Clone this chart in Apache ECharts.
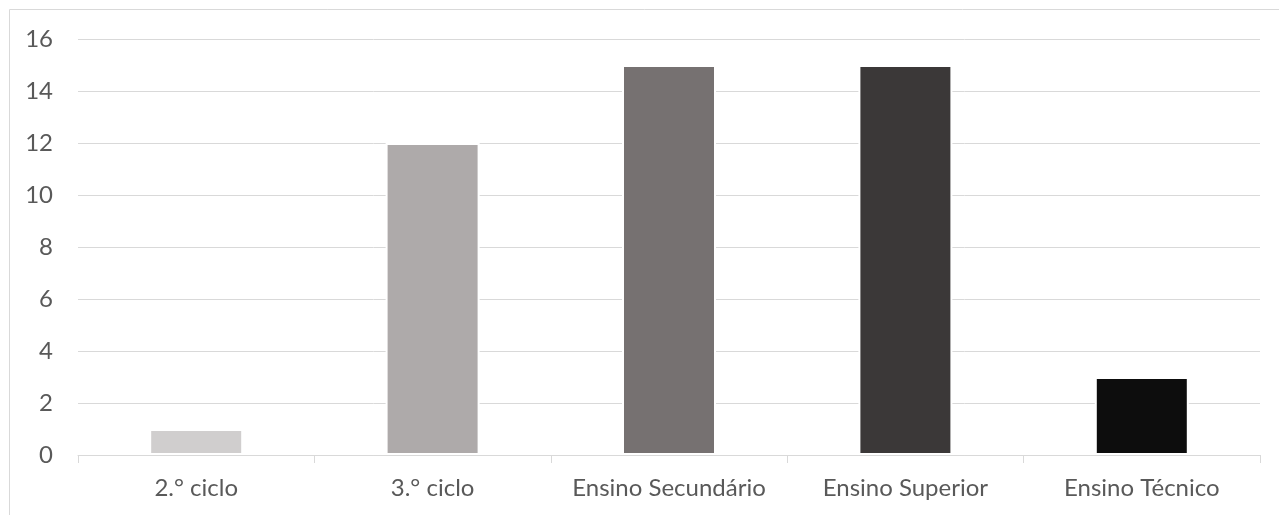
<!DOCTYPE html>
<html><head><meta charset="utf-8">
<script src="https://cdn.jsdelivr.net/npm/echarts@6/dist/echarts.min.js"></script>
<style>html,body{margin:0;padding:0;background:#fff}#c{width:1279px;height:515px}</style>
</head><body><div id="c"></div>
<script>
const categories = ['2.° ciclo', '3.° ciclo', 'Ensino Secundário', 'Ensino Superior', 'Ensino Técnico'];
const values = [1, 12, 15, 15, 3];
const barColors = ['#d0cece', '#aeaaaa', '#767171', '#3b3838', '#0d0d0d'];
const yTicks = { min: 0, max: 16, interval: 2 };

const chart = echarts.init(document.getElementById('c'), null, { renderer: 'canvas' });
chart.setOption({
  animation: false,
  textStyle: { fontFamily: 'Lato' },
  graphic: [{ type: 'rect', shape: { x: 9.5, y: 9.5, width: 1300, height: 600 }, style: { fill: 'none', stroke: '#d9d9d9', lineWidth: 1 }, silent: true }],
  grid: { left: 78, right: 19, top: 39, bottom: 60, containLabel: false },
  xAxis: {
    type: 'category', data: categories, z: 5,
    axisLine: { lineStyle: { color: '#d9d9d9', width: 1 } },
    axisTick: { show: true, length: 8, lineStyle: { color: '#d9d9d9' } },
    axisLabel: { color: '#595959', fontSize: 24, margin: 21, interval: 0 }
  },
  yAxis: {
    type: 'value', min: yTicks.min, max: yTicks.max, interval: yTicks.interval, z: 0,
    axisLine: { show: false }, axisTick: { show: false },
    axisLabel: { color: '#595959', fontSize: 24, margin: 25 },
    splitLine: { lineStyle: { color: '#d9d9d9', width: 1 } }
  },
  series: [{
    type: 'bar', barWidth: 94,
    data: values.map((v, i) => ({ value: v, itemStyle: { color: barColors[i], borderColor: '#ffffff', borderWidth: 2 } }))
  }]
});
</script></body></html>
